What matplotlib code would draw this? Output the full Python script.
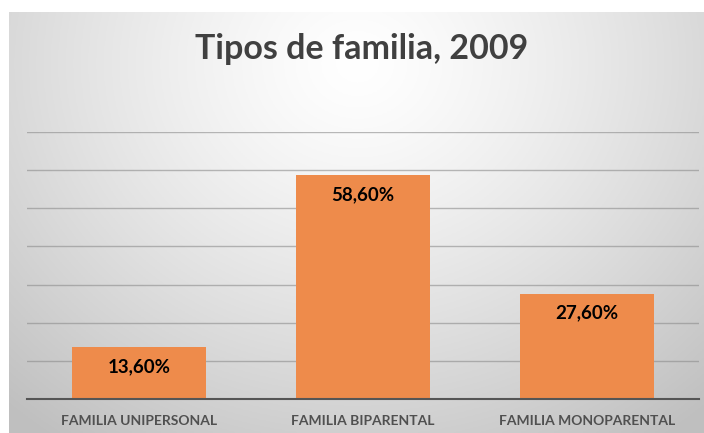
import numpy as np
import matplotlib
matplotlib.use("Agg")
import matplotlib.pyplot as plt

categories = ["FAMILIA UNIPERSONAL", "FAMILIA BIPARENTAL", "FAMILIA MONOPARENTAL"]
values = [13.6, 58.6, 27.6]
value_labels = ["13,60%", "58,60%", "27,60%"]
title = "Tipos de familia, 2009"

W, H = 704, 433
fig = plt.figure(figsize=(W / 100, H / 100), dpi=100)
fig.patch.set_facecolor("white")

# background gradient panel
bg = fig.add_axes([9 / W, 0, 1 - 9 / W, 1 - 12 / H])
bg.set_axis_off()
ny, nx = 200, 300
yy, xx = np.mgrid[0:ny, 0:nx]
cx, cy = nx * 0.5, ny * 0.12
d = np.sqrt(((xx - cx) / (nx * 0.75)) ** 2 + ((yy - cy) / (ny * 1.1)) ** 2)
d = np.clip(d, 0, 1)
val = 1.0 - 0.25 * d ** 1.3
img = np.dstack([val, val, val])
bg.imshow(img, aspect="auto", extent=[0, 1, 0, 1], origin="upper")
bg.set_xlim(0, 1)
bg.set_ylim(0, 1)

ax = fig.add_axes([27 / W, 34 / H, 672 / W, 267 / H])
ax.patch.set_alpha(0)
x = np.arange(len(categories))
ax.bar(x, values, width=0.6, color="#EE8B4B", zorder=3)
ax.set_xlim(-0.5, 2.5)
ax.set_ylim(0, 70)
ax.set_yticks(np.arange(10, 71, 10))
ax.yaxis.grid(True, color="#8c8c8c", linewidth=1.0, alpha=0.6, zorder=0)
ax.tick_params(axis="y", left=False, labelleft=False)
ax.tick_params(axis="x", bottom=False, pad=8)
for s in ["top", "right", "left"]:
    ax.spines[s].set_visible(False)
ax.spines["bottom"].set_color("#555555")
ax.spines["bottom"].set_linewidth(1.5)
ax.spines["bottom"].set_zorder(4)
ax.set_xticks(x)
ax.set_xticklabels(categories, fontsize=10, color="#505050", fontfamily="Lato", fontweight="bold")

for xi, v, lab in zip(x, values, value_labels):
    ax.text(xi, v - 2.8, lab, ha="center", va="top", fontsize=13.5, fontweight="bold",
            color="black", fontfamily="Lato", zorder=5)

fig.text(362 / W, 1 - 49 / H, title, ha="center", va="center", fontsize=24.5,
         fontweight="bold", color="#404040", fontfamily="Lato")

fig.savefig("out.png", dpi=100)
